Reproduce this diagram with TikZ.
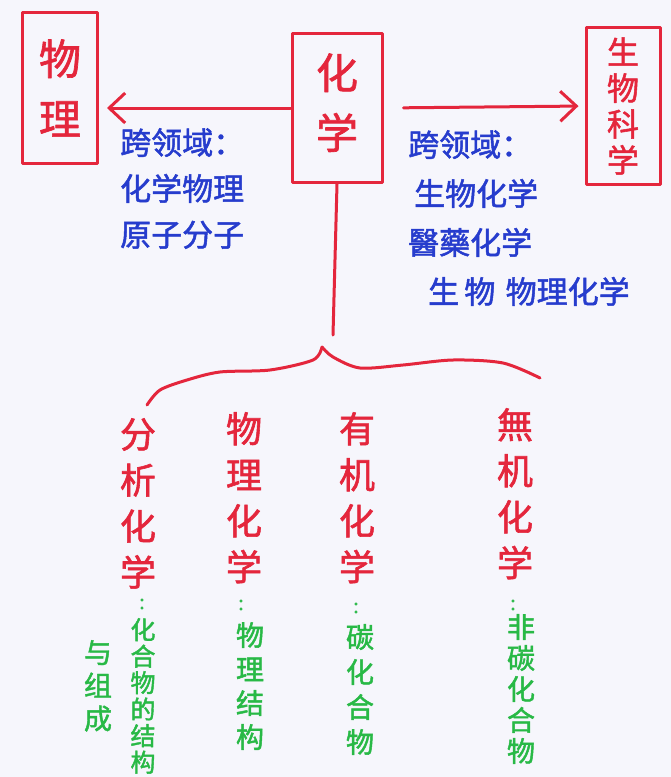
\documentclass[tikz,border=0pt]{standalone}
\usepackage{fontspec}
\newfontfamily\cjk{Noto Sans CJK SC}[AutoFakeBold=1.6]
\usetikzlibrary{arrows.meta}
\definecolor{penred}{RGB}{228,38,60}
\definecolor{penblue}{RGB}{38,60,205}
\definecolor{pengreen}{RGB}{40,185,70}
\definecolor{paper}{RGB}{246,246,252}
\tikzset{
  redline/.style={draw=penred, line width=3pt, line cap=round, line join=round},
  redbox/.style={redline, text=penred, inner sep=0pt, align=center},
  bluetext/.style={text=penblue, inner sep=0pt, align=left, font=\cjk\bfseries\fontsize{31}{46}\selectfont},
  redcol/.style={text=penred, inner sep=0pt, align=center, anchor=north, font=\cjk\bfseries\fontsize{36}{46}\selectfont},
  greencol/.style={text=pengreen, inner sep=0pt, align=center, anchor=north},
  colon/.style={text=pengreen, inner sep=0pt, font=\cjk\bfseries\fontsize{20}{20}\selectfont},
  barb/.style={-{Straight Barb[length=16pt,width=30pt,line width=3pt]}}
}
\begin{document}
\begin{tikzpicture}[x=1pt,y=-1pt]
\fill[paper] (0,0) rectangle (671,777);
\useasboundingbox (0,0) rectangle (671,777);

% top boxes
\node[redbox, minimum width=75pt, minimum height=151pt, font=\cjk\bfseries\fontsize{42}{60}\selectfont] (phys) at (60,88) {物\\理};
\node[redbox, minimum width=90pt, minimum height=149pt, text depth=14pt, font=\cjk\bfseries\fontsize{42}{60}\selectfont] (chem) at (337,108) {化\\学};
\node[redbox, minimum width=74pt, minimum height=157pt, font=\cjk\bfseries\fontsize{32}{36}\selectfont] (bio) at (623,106) {生\\物\\科\\学};

% arrows
\draw[redline, barb, shorten >=8pt] (chem.west) -- (chem.west -| phys.east);
\draw[redline, barb, shorten <=20pt, shorten >=6pt] (chem.east) -- (bio.west);

% cross-field labels
\node[bluetext, anchor=north west] (crossL) at (120,128) {跨领域：\\化学物理\\原子分子};
\node[bluetext, anchor=north west, font=\cjk\bfseries\fontsize{31}{49}\selectfont] (crossR) at (408,130) {跨领域：\\\hspace*{6pt}生物化学\\醫藥化学\\\hspace*{20pt}生\,物\,\,物理化学};

% stem and brace
\coordinate (peak) at (322,347);
\draw[redline] (chem.south) -- ++(-4,151);
\draw[redline] plot[smooth] coordinates {(peak) (313,360) (270,370) (220,372) (187,380) (160,390) (147,405)};
\draw[redline] plot[smooth] coordinates {(peak) (333,357) (360,368) (403,365) (453,360) (503,363) (540,378)};

% branches
\node[redcol] (ana) at (138,418) {分\\析\\化\\学};
\node[colon] (anaC) at (142,604) {:};
\node[greencol, font=\cjk\bfseries\fontsize{25}{26.5}\selectfont] (anaG) at (143,618) {化\\合\\物\\的\\结\\构};
\node[greencol, font=\cjk\bfseries\fontsize{28}{33}\selectfont] (anaG2) at (98,640) {与\\组\\成};

\node[redcol] (phc) at (244,412) {物\\理\\化\\学};
\node[colon] (phcC) at (241,605) {:};
\node[greencol, font=\cjk\bfseries\fontsize{28}{34}\selectfont] (phcG) at (250,622) {物\\理\\结\\构};

\node[redcol] (org) at (357,412) {有\\机\\化\\学};
\node[colon] (orgC) at (356,608) {:};
\node[greencol, font=\cjk\bfseries\fontsize{28}{35}\selectfont] (orgG) at (360,624) {碳\\化\\合\\物};

\node[redcol] (ino) at (515,408) {無\\机\\化\\学};
\node[colon] (inoC) at (513,605) {:};
\node[greencol, font=\cjk\bfseries\fontsize{28}{31}\selectfont] (inoG) at (521,614) {非\\碳\\化\\合\\物};
\end{tikzpicture}
\end{document}
